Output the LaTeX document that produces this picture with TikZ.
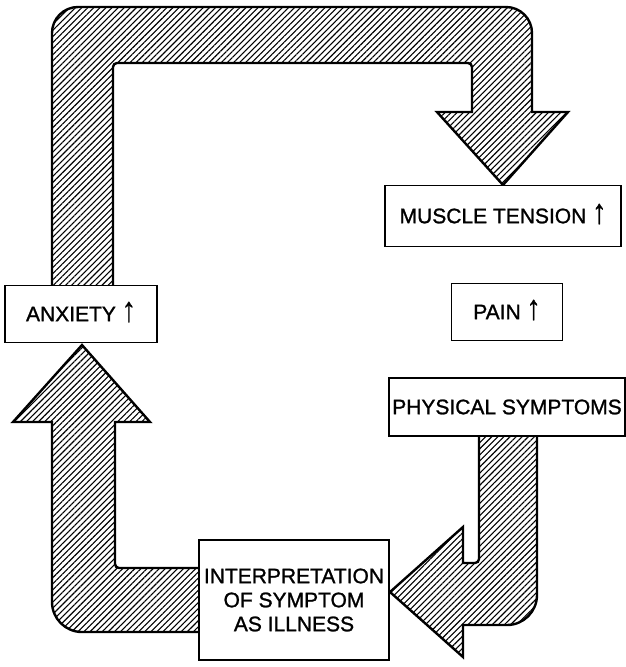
\documentclass[tikz,border=0pt]{standalone}
\usepackage{fontspec}
\setmainfont{Liberation Sans}
\newfontfamily\labelfont{Liberation Sans}[FakeBold=1.2]
\usetikzlibrary{patterns.meta}
\tikzset{
  labelbox/.style={
    draw=black,
    fill=white,
    line width=1.8pt,
    align=center,
    inner sep=0pt,
    font=\labelfont\fontsize{21}{24}\selectfont
  },
  hatcharrow/.style={
    draw=black,
    line width=2.4pt,
    pattern={Lines[angle=45,distance=4.3pt,line width=1.1pt]},
    pattern color=black
  }
}
\newcommand{\incr}{\smash{\scalebox{1.35}[1.65]{\bfseries ↑}}}

\begin{document}
\begin{tikzpicture}[x=1pt, y=-1pt]
    \useasboundingbox (0,0) rectangle (625,667);

    % the three broad hatched arrows
    \path[hatcharrow] (52,290) [rounded corners=26] -- (52,7) -- (532,7) [sharp corners] -- (532,112) -- (568,112) -- (503,185) -- (437,112) -- (472,112) [rounded corners=4] -- (472,63) -- (113,63) [sharp corners] -- (113,290) -- cycle;
    \path[hatcharrow] (479,430) -- (537,430) [rounded corners=30] -- (537,625) [sharp corners] -- (463,625) -- (463,657) -- (390,592) -- (463,527) -- (463,563) [rounded corners=4] -- (479,563) [sharp corners] -- cycle;
    \path[hatcharrow] (205,568) [rounded corners=4] -- (115,568) [sharp corners] -- (115,422) -- (150,422) -- (82,345) -- (13,422) -- (52,422) [rounded corners=30] -- (52,632) [sharp corners] -- (205,632) -- cycle;

    \node[labelbox, minimum width=236pt, minimum height=61pt] (muscle) at (503,216) {MUSCLE TENSION \incr};
    \node[labelbox, minimum width=111pt, minimum height=57pt] (pain) at (507,312) {PAIN \incr};
    \node[labelbox, minimum width=236pt, minimum height=58pt] (physical) at (507,407) {PHYSICAL SYMPTOMS};
    \node[labelbox, minimum width=152pt, minimum height=57pt] (anxiety) at (81,314) {ANXIETY \incr};
    \node[labelbox, minimum width=190pt, minimum height=120pt] (interp) at (294,600) {INTERPRETATION\\OF SYMPTOM\\AS ILLNESS};
\end{tikzpicture}
\end{document}
